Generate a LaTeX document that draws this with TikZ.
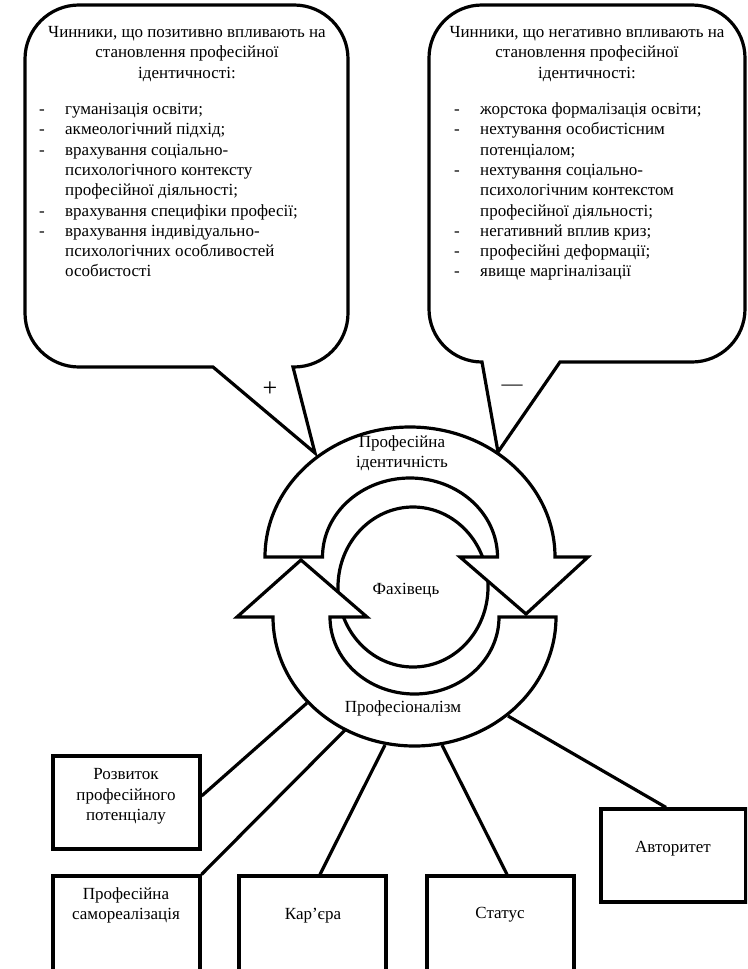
\documentclass[tikz,border=0pt]{standalone}
\usepackage{fontspec}
\setmainfont{Liberation Serif}
\begin{document}
\begin{tikzpicture}[x=1pt,y=-1pt,
  outline/.style={draw=black, line width=3.2pt, fill=white, line join=miter},
  wire/.style={draw=black, line width=3.2pt},
  txt/.style={inner sep=0pt, font=\fontsize{17}{20}\selectfont},
  sign/.style={inner sep=0pt, font=\fontsize{26}{26}\selectfont},
  boxnode/.style={draw=black, line width=3.2pt, fill=white, rectangle, minimum width=147pt, inner sep=0pt}]
\fill[white] (0,0) rectangle (747,969);
\clip (0,0) rectangle (747,969);

% ---------- callouts ----------
\draw[outline] (213,367) -- (315,453) -- (293,367) -- (294,367)
  arc[start angle=90, end angle=0, radius=54] -- (348,59)
  arc[start angle=0, end angle=-90, radius=54] -- (79,5)
  arc[start angle=-90, end angle=-180, radius=54] -- (25,313)
  arc[start angle=180, end angle=90, radius=54] -- cycle;
\draw[outline] (482,362) -- (498,452) -- (560,362) -- (692,362)
  arc[start angle=90, end angle=0, radius=53] -- (745,58)
  arc[start angle=0, end angle=-90, radius=53] -- (482,5)
  arc[start angle=-90, end angle=-180, radius=53] -- (429,309)
  arc[start angle=180, end angle=90, radius=53] -- cycle;

% left callout text
\node[txt, anchor=base] (lt1) at (187,37.5) {Чинники, що позитивно впливають на};
\node[txt, anchor=base] (lt2) at (187,57.8) {становлення професійної};
\node[txt, anchor=base] (lt3) at (187,78.1) {ідентичності:};
\node[txt, anchor=base] (ld1) at (42,114.5) {-};
\node[txt, anchor=base] (ld2) at (42,134.8) {-};
\node[txt, anchor=base] (ld3) at (42,155.1) {-};
\node[txt, anchor=base] (ld4) at (42,216.0) {-};
\node[txt, anchor=base] (ld5) at (42,236.3) {-};
\node[txt, anchor=base west] (li1) at (65,114.5) {гуманізація освіти;};
\node[txt, anchor=base west] (li2) at (65,134.8) {акмеологічний підхід;};
\node[txt, anchor=base west] (li3) at (65,155.1) {врахування соціально-};
\node[txt, anchor=base west] (li4) at (65,175.4) {психологічного контексту};
\node[txt, anchor=base west] (li5) at (65,195.7) {професійної діяльності;};
\node[txt, anchor=base west] (li6) at (65,216.0) {врахування специфіки професії;};
\node[txt, anchor=base west] (li7) at (65,236.3) {врахування індивідуально-};
\node[txt, anchor=base west] (li8) at (65,256.6) {психологічних особливостей};
\node[txt, anchor=base west] (li9) at (65,276.9) {особистості};

% right callout text
\node[txt, anchor=base] (rt1) at (587,37.5) {Чинники, що негативно впливають на};
\node[txt, anchor=base] (rt2) at (587,57.8) {становлення професійної};
\node[txt, anchor=base] (rt3) at (587,78.1) {ідентичності:};
\node[txt, anchor=base] (rd1) at (457,114.5) {-};
\node[txt, anchor=base] (rd2) at (457,134.8) {-};
\node[txt, anchor=base] (rd3) at (457,175.4) {-};
\node[txt, anchor=base] (rd4) at (457,236.3) {-};
\node[txt, anchor=base] (rd5) at (457,256.6) {-};
\node[txt, anchor=base] (rd6) at (457,276.9) {-};
\node[txt, anchor=base west] (ri1) at (480,114.5) {жорстока формалізація освіти;};
\node[txt, anchor=base west] (ri2) at (480,134.8) {нехтування особистісним};
\node[txt, anchor=base west] (ri3) at (480,155.1) {потенціалом;};
\node[txt, anchor=base west] (ri4) at (480,175.4) {нехтування соціально-};
\node[txt, anchor=base west] (ri5) at (480,195.7) {психологічним контекстом};
\node[txt, anchor=base west] (ri6) at (480,216.0) {професійної діяльності;};
\node[txt, anchor=base west] (ri7) at (480,236.3) {негативний вплив криз;};
\node[txt, anchor=base west] (ri8) at (480,256.6) {професійні деформації;};
\node[txt, anchor=base west] (ri9) at (480,276.9) {явище маргіналізації};

\node[sign] (plus) at (270,389.5) {+};
\node[sign, font=\fontsize{21}{21}\selectfont] (minus) at (512,388) {—};

% ---------- boxes ----------
\node[boxnode, minimum height=93pt] (b1) at (126.5,802.5) {};
\node[boxnode, minimum height=120pt] (b2) at (126.5,936) {};
\node[boxnode, minimum height=120pt] (b3) at (312.5,936) {};
\node[boxnode, minimum height=120pt] (b4) at (500.5,936) {};
\node[boxnode, minimum width=145pt, minimum height=93pt] (b5) at (673.5,855.5) {};

\node[txt, anchor=base] (b1t1) at (126,779.5) {Розвиток};
\node[txt, anchor=base] (b1t2) at (126,800) {професійного};
\node[txt, anchor=base] (b1t3) at (126,820.5) {потенціалу};
\node[txt, anchor=base] (b2t1) at (126,899.5) {Професійна};
\node[txt, anchor=base] (b2t2) at (126,919.5) {самореалізація};
\node[txt, anchor=base] (b3t) at (313,919.5) {Кар’єра};
\node[txt, anchor=base] (b4t) at (500,918.5) {Статус};
\node[txt, anchor=base] (b5t) at (673,852.5) {Авторитет};

% ---------- connectors ----------
\coordinate (e1) at (307,703);
\coordinate (e2) at (345,730);
\coordinate (e3) at (385,745);
\coordinate (e4) at (442,745);
\coordinate (e5) at (508,716);
\draw[wire] (e1) -- ([yshift=6.5pt]b1.east);
\draw[wire] (e2) -- (b2.north east);
\draw[wire] (e3) -- ([xshift=7.5pt]b3.north);
\draw[wire] (e4) -- ([xshift=6.5pt]b4.north);
\draw[wire] (e5) -- ([xshift=-7.5pt]b5.north);

% ---------- core ----------
\draw[outline] (413,587) ellipse[x radius=75, y radius=80];
\node[txt, anchor=base] (core) at (406,594.5) {Фахівець};

% top circular arrow
\draw[outline] (265,557)
  arc[start angle=180, end angle=360, x radius=145, y radius=130]
  -- (588,557) -- (526,614) -- (460,557) -- (497.5,557)
  arc[start angle=0, end angle=-180, x radius=87.5, y radius=79]
  -- cycle;
% bottom circular arrow
\draw[outline] (556,617)
  arc[start angle=0, end angle=180, x radius=141.5, y radius=129]
  -- (237,617) -- (301,560) -- (367,617) -- (330,617)
  arc[start angle=180, end angle=0, x radius=84.5, y radius=77]
  -- cycle;

\node[txt, anchor=base] (id1) at (402,447.5) {Професійна};
\node[txt, anchor=base] (id2) at (402,467.5) {ідентичність};
\node[txt, anchor=base] (prof) at (403,712.5) {Професіоналізм};
\end{tikzpicture}
\end{document}
